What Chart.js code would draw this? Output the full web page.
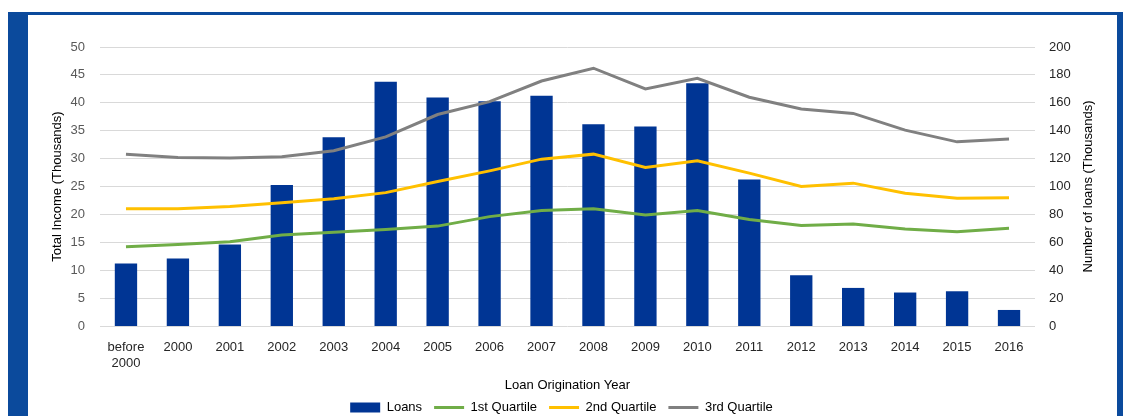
<!DOCTYPE html>
<html>
<head>
<meta charset="utf-8">
<script src="https://cdn.jsdelivr.net/npm/chart.js@4.4.0/dist/chart.umd.min.js"></script>
<style>
  html, body { margin: 0; padding: 0; background: #fff; overflow: hidden; }
  #frame { position: absolute; left: 8px; top: 12px; width: 1115px; height: 420px; background: #0b4a9c; }
  #inner { position: absolute; left: 20px; top: 3px; width: 1089px; height: 417px; background: #fff; }
  #chart { display: block; }
</style>
</head>
<body>
<div id="frame">
  <div id="inner">
    <canvas id="chart" width="1089" height="409"></canvas>
  </div>
</div>
<script>
const years = [["before", "2000"], "2000", "2001", "2002", "2003", "2004", "2005", "2006", "2007",
  "2008", "2009", "2010", "2011", "2012", "2013", "2014", "2015", "2016"];

// number of loans, thousands (right axis)
const loans = [44.8, 48.3, 58.5, 101.1, 135.3, 175.1, 163.8, 161.2, 165, 144.7, 143, 174.1,
  105, 36.4, 27.3, 24, 24.9, 11.5];

// total income quartiles, thousands (left axis)
const q1 = [14.2, 14.6, 15.1, 16.3, 16.8, 17.3, 17.9, 19.6, 20.7, 21.0, 19.9, 20.7,
  19.1, 18.0, 18.3, 17.4, 16.9, 17.5];
const q2 = [21.0, 21.0, 21.4, 22.1, 22.8, 23.9, 25.9, 27.8, 29.9, 30.8, 28.4, 29.6,
  27.4, 25.0, 25.6, 23.8, 22.9, 23.0];
const q3 = [30.8, 30.2, 30.1, 30.35, 31.4, 33.9, 37.9, 40.2, 43.9, 46.2, 42.5, 44.4,
  41.0, 38.9, 38.1, 35.1, 33.0, 33.5];

const rightTitle = "Number of loans (Thousands)";

const font = { family: "'Liberation Sans', Arial, sans-serif", size: 13 };

function lineSet(label, data, color) {
  return {
    type: "line",
    label: label,
    data: data,
    yAxisID: "y",
    borderColor: color,
    backgroundColor: color,
    borderWidth: 3,
    pointRadius: 0,
    tension: 0,
    order: 1,
  };
}

// Chart.js turns a right-hand axis title the other way, so draw it reading upwards
const rightTitlePlugin = {
  id: "rightTitle",
  afterDraw(chart) {
    const { ctx, chartArea } = chart;
    ctx.save();
    ctx.translate(chart.width - 29, (chartArea.top + chartArea.bottom) / 2);
    ctx.rotate(-Math.PI / 2);
    ctx.font = "13px 'Liberation Sans', Arial, sans-serif";
    ctx.fillStyle = "#000";
    ctx.textAlign = "center";
    ctx.textBaseline = "middle";
    ctx.fillText(rightTitle, 0, 0);
    ctx.restore();
  },
};

new Chart(document.getElementById("chart"), {
  data: {
    labels: years,
    datasets: [
      {
        type: "bar",
        label: "Loans",
        data: loans,
        yAxisID: "y1",
        backgroundColor: "#003594",
        borderWidth: 0,
        barPercentage: 0.43,
        categoryPercentage: 1,
        order: 2,
      },
      lineSet("1st Quartile", q1, "#70ad47"),
      lineSet("2nd Quartile", q2, "#ffc000"),
      lineSet("3rd Quartile", q3, "#808080"),
    ],
  },
  plugins: [rightTitlePlugin],
  options: {
    responsive: false,
    animation: false,
    layout: { padding: { top: 32, left: 0, right: 22, bottom: 0 } },
    plugins: {
      tooltip: { enabled: false },
      legend: {
        position: "bottom",
        labels: {
          font: font,
          color: "#000",
          usePointStyle: true,
          pointStyleWidth: 30,
          boxHeight: 10,
          padding: 12,
          generateLabels: (chart) =>
            chart.data.datasets.map((ds, i) => ({
              text: ds.label,
              fillStyle: ds.backgroundColor,
              strokeStyle: ds.type === "line" ? ds.borderColor : ds.backgroundColor,
              lineWidth: ds.type === "line" ? 3 : 0,
              pointStyle: ds.type === "line" ? "line" : "rect",
              fontColor: "#000",
              hidden: false,
              datasetIndex: i,
            })),
        },
      },
    },
    scales: {
      x: {
        grid: { display: false, drawTicks: false },
        border: { display: false },
        ticks: { font: font, color: "#262626", padding: 14, maxRotation: 0, autoSkip: false },
        title: {
          display: true,
          text: "Loan Origination Year",
          font: font,
          color: "#000",
          padding: { top: 0, bottom: -4 },
        },
        afterFit: (scale) => { scale.height = 63; },
      },
      y: {
        position: "left",
        min: 0,
        max: 50,
        ticks: { stepSize: 5, font: font, color: "#595959", padding: 15 },
        grid: { color: "#d9d9d9", lineWidth: 1, drawTicks: false },
        border: { display: false },
        title: {
          display: true,
          text: "Total Income (Thousands)",
          font: font,
          color: "#000",
          padding: { top: 22, bottom: 0 },
        },
        afterFit: (scale) => { scale.width = 72; },
      },
      y1: {
        position: "right",
        min: 0,
        max: 200,
        ticks: { stepSize: 20, font: font, color: "#262626", padding: 14 },
        grid: { display: false, drawTicks: false },
        border: { display: false },
        afterFit: (scale) => { scale.width = 60; },
      },
    },
  },
});
</script>
</body>
</html>
